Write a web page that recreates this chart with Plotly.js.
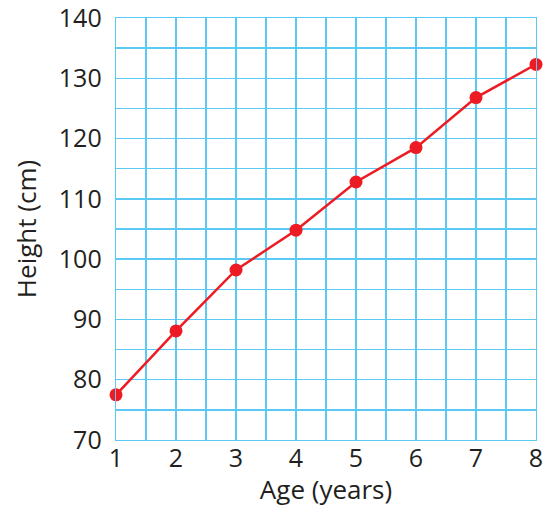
<!DOCTYPE html>
<html>
<head>
<meta charset="utf-8">
<script src="https://cdn.plot.ly/plotly-3.0.1.min.js"></script>
<style>html,body{margin:0;padding:0;background:#fff;}#chart{width:546px;height:507px;}</style>
</head>
<body>
<div id="chart"></div>
<script>
const ages = [1, 2, 3, 4, 5, 6, 7, 8];
const heights = [77.5, 88.1, 98.2, 104.8, 112.8, 118.5, 126.8, 132.3];
const xTicks = [1, 2, 3, 4, 5, 6, 7, 8];
const yTicks = [70, 80, 90, 100, 110, 120, 130, 140];

const gridColor = '#5cc9f5';
const textColor = '#231f20';
const font = 'Open Sans, sans-serif';

Plotly.newPlot('chart', [{
  x: ages,
  y: heights,
  type: 'scatter',
  mode: 'lines+markers',
  line: {color: '#ed1c24', width: 2.5},
  marker: {color: '#ed1c24', size: 13},
  cliponaxis: false,
  hoverinfo: 'skip'
}], {
  width: 546,
  height: 507,
  margin: {l: 116, r: 10, t: 18, b: 67},
  paper_bgcolor: '#fff',
  plot_bgcolor: '#fff',
  showlegend: false,
  font: {family: font, color: textColor},
  xaxis: {
    range: [1, 8],
    tickvals: xTicks,
    ticktext: xTicks.map(String),
    tickfont: {size: 25, color: textColor, family: font},
    ticklabeloverflow: 'allow',
    showgrid: true,
    gridcolor: gridColor,
    gridwidth: 1.3,
    minor: {dtick: 0.5, showgrid: true, gridcolor: gridColor, gridwidth: 1.3},
    showline: true,
    linecolor: gridColor,
    linewidth: 1.3,
    mirror: true,
    zeroline: false,
    ticks: '',
    ticklabelstandoff: -4,
    title: {text: 'Age (years)', font: {size: 26, color: textColor, family: font}, standoff: 6}
  },
  yaxis: {
    range: [70, 140],
    tickvals: yTicks,
    ticktext: yTicks.map(String),
    tickfont: {size: 25, color: textColor, family: font},
    ticklabeloverflow: 'allow',
    showgrid: true,
    gridcolor: gridColor,
    gridwidth: 1.3,
    minor: {dtick: 5, showgrid: true, gridcolor: gridColor, gridwidth: 1.3},
    showline: true,
    linecolor: gridColor,
    linewidth: 1.3,
    mirror: true,
    zeroline: false,
    ticks: '',
    ticklabelstandoff: 8,
    title: {text: 'Height (cm)', font: {size: 26, color: textColor, family: font}, standoff: 14}
  }
}, {staticPlot: true, displayModeBar: false});
</script>
</body>
</html>
